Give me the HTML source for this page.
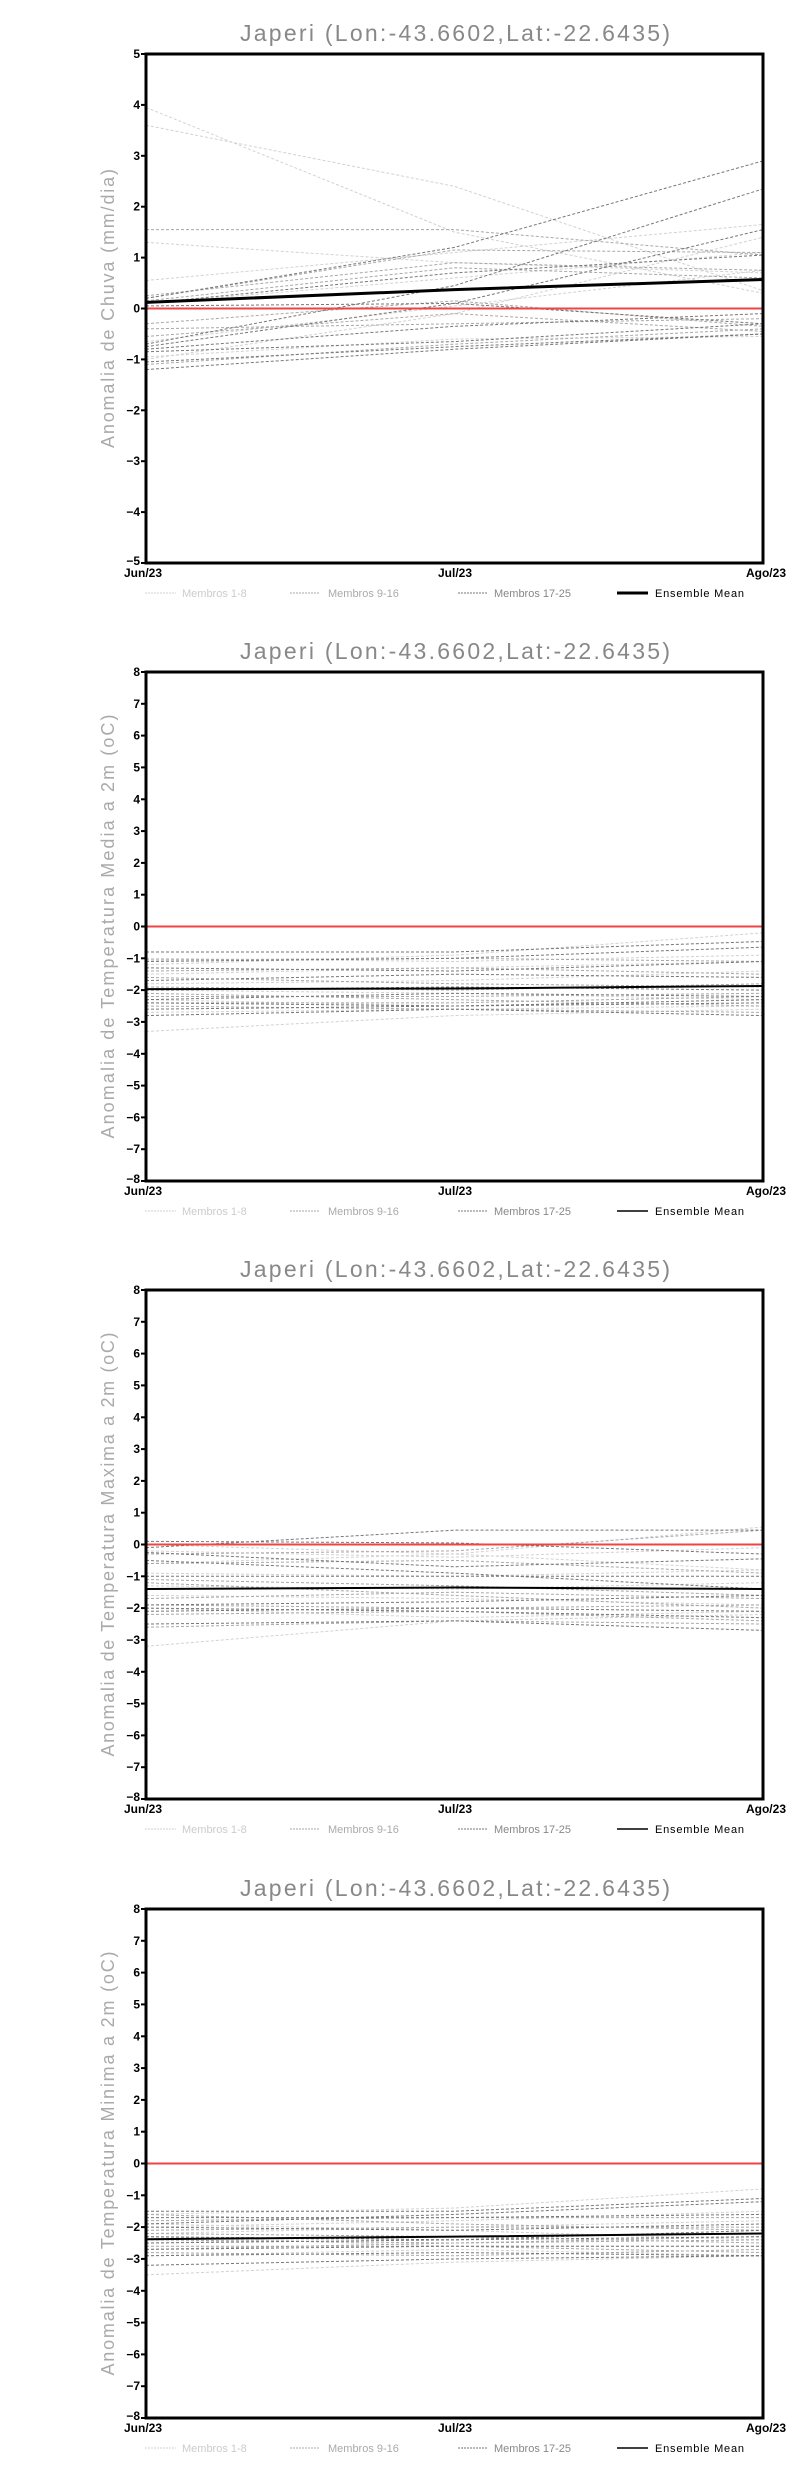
<!DOCTYPE html>
<html><head><meta charset="utf-8"><style>
body{margin:0;background:#fff}
svg{display:block}
.t{font-family:"Liberation Sans",sans-serif;font-size:23px;fill:#888;text-anchor:middle}
.yl{font-family:"Liberation Sans",sans-serif;font-size:18px;fill:#aaa;text-anchor:middle}
.tk{font-family:"Liberation Sans Narrow","Liberation Sans",sans-serif;font-weight:bold;font-size:12px;fill:#000;text-anchor:end}
.xl{font-family:"Liberation Sans Narrow","Liberation Sans",sans-serif;font-weight:bold;font-size:12px;fill:#000;text-anchor:middle}
.lg{font-family:"Liberation Sans",sans-serif;font-size:11px}
.s polyline{fill:none;stroke-width:1;stroke-dasharray:3 2;vector-effect:non-scaling-stroke}
.a polyline{stroke:#d2d2d2}.b polyline{stroke:#a8a8a8}.c polyline{stroke:#777}
.m{fill:none;stroke:#000;vector-effect:non-scaling-stroke}
.r{stroke:#ee4444;stroke-width:2;vector-effect:non-scaling-stroke}
</style></head><body>
<svg width="800" height="2472" viewBox="0 0 800 2472" xmlns="http://www.w3.org/2000/svg">
<defs>
<g id="legend">
<line x1="145" x2="176" stroke="#d2d2d2" stroke-dasharray="2 1"/><text class="lg" x="182" y="4" fill="#ccc">Membros 1-8</text>
<line x1="290" x2="320" stroke="#a8a8a8" stroke-dasharray="2 1"/><text class="lg" x="328" y="4" fill="#aaa">Membros 9-16</text>
<line x1="458" x2="488" stroke="#777" stroke-dasharray="2 1"/><text class="lg" x="494" y="4" fill="#888">Membros 17-25</text>
<text class="lg" x="655" y="4" fill="#000" textLength="89">Ensemble Mean</text>
</g>
<g id="xlab">
<text class="xl" x="143" y="14">Jun/23</text>
<text class="xl" x="455" y="14">Jul/23</text>
<text class="xl" x="766" y="14">Ago/23</text>
</g>
<g id="tticks" stroke="#000" stroke-width="2">
<line x1="141" x2="146" y1="54" y2="54"/><line x1="141" x2="146" y1="85.8" y2="85.8"/><line x1="141" x2="146" y1="117.6" y2="117.6"/><line x1="141" x2="146" y1="149.4" y2="149.4"/><line x1="141" x2="146" y1="181.3" y2="181.3"/><line x1="141" x2="146" y1="213.1" y2="213.1"/><line x1="141" x2="146" y1="244.9" y2="244.9"/><line x1="141" x2="146" y1="276.7" y2="276.7"/><line x1="141" x2="146" y1="308.5" y2="308.5"/><line x1="141" x2="146" y1="340.3" y2="340.3"/><line x1="141" x2="146" y1="372.1" y2="372.1"/><line x1="141" x2="146" y1="403.9" y2="403.9"/><line x1="141" x2="146" y1="435.8" y2="435.8"/><line x1="141" x2="146" y1="467.6" y2="467.6"/><line x1="141" x2="146" y1="499.4" y2="499.4"/><line x1="141" x2="146" y1="531.2" y2="531.2"/><line x1="141" x2="146" y1="563" y2="563"/>
</g>
<g id="tlabels">
<text class="tk" x="140" y="58">8</text><text class="tk" x="140" y="89.8">7</text><text class="tk" x="140" y="121.6">6</text><text class="tk" x="140" y="153.4">5</text><text class="tk" x="140" y="185.3">4</text><text class="tk" x="140" y="217.1">3</text><text class="tk" x="140" y="248.9">2</text><text class="tk" x="140" y="280.7">1</text><text class="tk" x="140" y="312.5">0</text><text class="tk" x="140" y="344.3">−1</text><text class="tk" x="140" y="376.1">−2</text><text class="tk" x="140" y="407.9">−3</text><text class="tk" x="140" y="439.8">−4</text><text class="tk" x="140" y="471.6">−5</text><text class="tk" x="140" y="503.4">−6</text><text class="tk" x="140" y="535.2">−7</text><text class="tk" x="140" y="565">−8</text>
</g>
</defs>

<!-- Panel 1 -->
<text class="t" x="455" y="41" textLength="430">Japeri (Lon:-43.6602,Lat:-22.6435)</text>
<text class="yl" transform="translate(114,308.5) rotate(-90)" textLength="279">Anomalia de Chuva (mm/dia)</text>
<g transform="translate(0,308.5) scale(1,-50.9)">
<g class="s a">
<polyline points="146,3.95 454.5,1.5 763,0.3"/><polyline points="146,3.6 454.5,2.4 763,0.35"/><polyline points="146,1.3 454.5,0.9 763,0.7"/><polyline points="146,0.55 454.5,1.1 763,1.65"/><polyline points="146,-0.95 454.5,-0.6 763,-0.55"/><polyline points="146,-1.0 454.5,-0.1 763,1.4"/><polyline points="146,-0.65 454.5,0.05 763,0.75"/><polyline points="146,0.1 454.5,0.6 763,1.1"/>
</g>
<g class="s b">
<polyline points="146,1.55 454.5,1.55 763,1.05"/><polyline points="146,0.2 454.5,1.15 763,1.1"/><polyline points="146,-0.3 454.5,0.15 763,-0.35"/><polyline points="146,-0.4 454.5,-0.3 763,-0.2"/><polyline points="146,-0.55 454.5,-0.1 763,-0.45"/><polyline points="146,-1.1 454.5,-0.7 763,-0.4"/><polyline points="146,0.15 454.5,0.8 763,0.6"/><polyline points="146,0.25 454.5,0.9 763,0.75"/>
</g>
<g class="s c">
<polyline points="146,0.2 454.5,1.2 763,2.9"/><polyline points="146,-0.7 454.5,0.45 763,2.35"/><polyline points="146,-0.75 454.5,0.1 763,1.55"/><polyline points="146,0.1 454.5,0.7 763,1.05"/><polyline points="146,-0.8 454.5,-0.35 763,-0.1"/><polyline points="146,-1.05 454.5,-0.75 763,-0.5"/><polyline points="146,-0.85 454.5,-0.65 763,-0.3"/><polyline points="146,0.05 454.5,0.1 763,-0.3"/><polyline points="146,-1.2 454.5,-0.8 763,-0.5"/>
</g>
<line class="r" x1="146" x2="763" y1="0" y2="0"/>
<polyline class="m" stroke-width="3" points="146,0.12 454.5,0.37 763,0.57"/>
</g>
<rect x="146" y="54" width="617" height="509" fill="none" stroke="#000" stroke-width="3"/>
<g stroke="#000" stroke-width="2">
<line x1="141" x2="146" y1="54" y2="54"/><line x1="141" x2="146" y1="104.9" y2="104.9"/><line x1="141" x2="146" y1="155.8" y2="155.8"/><line x1="141" x2="146" y1="206.7" y2="206.7"/><line x1="141" x2="146" y1="257.6" y2="257.6"/><line x1="141" x2="146" y1="308.5" y2="308.5"/><line x1="141" x2="146" y1="359.4" y2="359.4"/><line x1="141" x2="146" y1="410.3" y2="410.3"/><line x1="141" x2="146" y1="461.2" y2="461.2"/><line x1="141" x2="146" y1="512.1" y2="512.1"/><line x1="141" x2="146" y1="563" y2="563"/>
</g>
<text class="tk" x="140" y="58">5</text><text class="tk" x="140" y="108.9">4</text><text class="tk" x="140" y="159.8">3</text><text class="tk" x="140" y="210.7">2</text><text class="tk" x="140" y="261.6">1</text><text class="tk" x="140" y="312.5">0</text><text class="tk" x="140" y="363.4">−1</text><text class="tk" x="140" y="414.3">−2</text><text class="tk" x="140" y="465.2">−3</text><text class="tk" x="140" y="516.1">−4</text><text class="tk" x="140" y="565">−5</text>
<use href="#xlab" x="0" y="563"/>
<g transform="translate(0,593)"><use href="#legend"/><line x1="617" x2="648" stroke="#000" stroke-width="3"/></g>

<!-- Panel 2 -->
<g transform="translate(0,618)">
<text class="t" x="455" y="41" textLength="430">Japeri (Lon:-43.6602,Lat:-22.6435)</text>
<text class="yl" transform="translate(114,308.5) rotate(-90)" textLength="424">Anomalia de Temperatura Media a 2m (oC)</text>
<g transform="translate(0,308.5) scale(1,-31.81)">
<g class="s a">
<polyline points="146,-3.3 454.5,-2.8 763,-2.6"/><polyline points="146,-1.2 454.5,-0.9 763,-0.2"/><polyline points="146,-1.5 454.5,-1.3 763,-1.1"/><polyline points="146,-1.8 454.5,-1.7 763,-1.4"/><polyline points="146,-2.0 454.5,-2.1 763,-2.3"/><polyline points="146,-2.3 454.5,-2.5 763,-2.4"/><polyline points="146,-1.0 454.5,-1.1 763,-0.9"/><polyline points="146,-2.7 454.5,-2.6 763,-2.5"/>
</g>
<g class="s b">
<polyline points="146,-1.05 454.5,-1.0 763,-1.1"/><polyline points="146,-1.4 454.5,-1.3 763,-1.5"/><polyline points="146,-1.6 454.5,-1.8 763,-1.9"/><polyline points="146,-2.2 454.5,-2.2 763,-2.1"/><polyline points="146,-2.1 454.5,-2.3 763,-2.5"/><polyline points="146,-2.5 454.5,-2.6 763,-2.7"/><polyline points="146,-1.9 454.5,-2.0 763,-1.8"/><polyline points="146,-2.4 454.5,-2.4 763,-2.2"/>
</g>
<g class="s c">
<polyline points="146,-0.8 454.5,-0.8 763,-0.47"/><polyline points="146,-1.1 454.5,-1.0 763,-0.65"/><polyline points="146,-1.3 454.5,-1.4 763,-1.1"/><polyline points="146,-1.7 454.5,-1.5 763,-1.6"/><polyline points="146,-2.0 454.5,-1.9 763,-2.0"/><polyline points="146,-2.3 454.5,-2.1 763,-2.2"/><polyline points="146,-2.4 454.5,-2.5 763,-2.3"/><polyline points="146,-2.8 454.5,-2.6 763,-2.8"/><polyline points="146,-2.6 454.5,-2.5 763,-2.4"/>
</g>
<line class="r" x1="146" x2="763" y1="0" y2="0"/>
<polyline class="m" stroke-width="2" points="146,-1.97 454.5,-1.95 763,-1.87"/>
</g>
<rect x="146" y="54" width="617" height="509" fill="none" stroke="#000" stroke-width="3"/>
<use href="#tticks"/><use href="#tlabels"/>
<use href="#xlab" x="0" y="563"/>
<g transform="translate(0,593)"><use href="#legend"/><line x1="617" x2="648" stroke="#000" stroke-width="1.5"/></g>
</g>

<!-- Panel 3 -->
<g transform="translate(0,1236)">
<text class="t" x="455" y="41" textLength="430">Japeri (Lon:-43.6602,Lat:-22.6435)</text>
<text class="yl" transform="translate(114,308.5) rotate(-90)" textLength="424">Anomalia de Temperatura Maxima a 2m (oC)</text>
<g transform="translate(0,308.5) scale(1,-31.81)">
<g class="s a">
<polyline points="146,-3.2 454.5,-2.4 763,-2.2"/><polyline points="146,0.0 454.5,-0.3 763,0.55"/><polyline points="146,-0.6 454.5,-0.3 763,-0.8"/><polyline points="146,-1.3 454.5,-1.4 763,-1.2"/><polyline points="146,-1.6 454.5,-1.7 763,-1.9"/><polyline points="146,-0.9 454.5,-1.0 763,-0.8"/><polyline points="146,-2.0 454.5,-2.3 763,-2.1"/><polyline points="146,-0.2 454.5,-0.4 763,-0.1"/>
</g>
<g class="s b">
<polyline points="146,-0.3 454.5,-0.2 763,0.45"/><polyline points="146,-0.6 454.5,-0.5 763,-0.9"/><polyline points="146,-1.1 454.5,-1.3 763,-1.6"/><polyline points="146,-1.7 454.5,-1.5 763,-1.7"/><polyline points="146,-1.9 454.5,-2.0 763,-1.9"/><polyline points="146,-2.2 454.5,-2.1 763,-2.4"/><polyline points="146,-2.6 454.5,-2.4 763,-2.5"/><polyline points="146,-1.2 454.5,-1.6 763,-2.0"/>
</g>
<g class="s c">
<polyline points="146,-0.1 454.5,0.45 763,0.45"/><polyline points="146,0.1 454.5,0.05 763,-0.3"/><polyline points="146,-0.25 454.5,-0.7 763,-0.45"/><polyline points="146,-0.5 454.5,-0.9 763,-1.4"/><polyline points="146,-1.0 454.5,-1.0 763,-1.0"/><polyline points="146,-1.9 454.5,-1.8 763,-1.6"/><polyline points="146,-2.0 454.5,-2.1 763,-2.3"/><polyline points="146,-2.5 454.5,-2.4 763,-2.7"/><polyline points="146,-2.1 454.5,-2.0 763,-2.1"/>
</g>
<line class="r" x1="146" x2="763" y1="0" y2="0"/>
<polyline class="m" stroke-width="2" points="146,-1.4 454.5,-1.35 763,-1.4"/>
</g>
<rect x="146" y="54" width="617" height="509" fill="none" stroke="#000" stroke-width="3"/>
<use href="#tticks"/><use href="#tlabels"/>
<use href="#xlab" x="0" y="563"/>
<g transform="translate(0,593)"><use href="#legend"/><line x1="617" x2="648" stroke="#000" stroke-width="1.5"/></g>
</g>

<!-- Panel 4 -->
<g transform="translate(0,1855)">
<text class="t" x="455" y="41" textLength="430">Japeri (Lon:-43.6602,Lat:-22.6435)</text>
<text class="yl" transform="translate(114,308.5) rotate(-90)" textLength="424">Anomalia de Temperatura Minima a 2m (oC)</text>
<g transform="translate(0,308.5) scale(1,-31.81)">
<g class="s a">
<polyline points="146,-3.5 454.5,-3.1 763,-2.9"/><polyline points="146,-1.6 454.5,-1.4 763,-0.8"/><polyline points="146,-2.0 454.5,-1.8 763,-1.5"/><polyline points="146,-2.3 454.5,-2.6 763,-2.6"/><polyline points="146,-2.5 454.5,-2.3 763,-2.2"/><polyline points="146,-1.9 454.5,-2.1 763,-2.4"/><polyline points="146,-2.9 454.5,-2.7 763,-2.9"/><polyline points="146,-2.2 454.5,-2.0 763,-1.8"/>
</g>
<g class="s b">
<polyline points="146,-1.8 454.5,-1.7 763,-1.7"/><polyline points="146,-2.1 454.5,-2.0 763,-2.0"/><polyline points="146,-2.4 454.5,-2.5 763,-2.4"/><polyline points="146,-2.6 454.5,-2.6 763,-2.8"/><polyline points="146,-2.8 454.5,-2.9 763,-2.7"/><polyline points="146,-2.2 454.5,-2.3 763,-2.5"/><polyline points="146,-1.6 454.5,-1.9 763,-2.1"/><polyline points="146,-2.7 454.5,-2.5 763,-2.3"/>
</g>
<g class="s c">
<polyline points="146,-1.5 454.5,-1.5 763,-1.1"/><polyline points="146,-1.7 454.5,-1.7 763,-1.6"/><polyline points="146,-2.0 454.5,-2.1 763,-1.9"/><polyline points="146,-2.5 454.5,-2.4 763,-2.3"/><polyline points="146,-2.7 454.5,-2.6 763,-2.6"/><polyline points="146,-2.9 454.5,-2.8 763,-2.9"/><polyline points="146,-3.2 454.5,-3.0 763,-2.9"/><polyline points="146,-2.3 454.5,-2.4 763,-2.1"/><polyline points="146,-1.9 454.5,-1.6 763,-1.2"/>
</g>
<line class="r" x1="146" x2="763" y1="0" y2="0"/>
<polyline class="m" stroke-width="2" points="146,-2.38 454.5,-2.3 763,-2.2"/>
</g>
<rect x="146" y="54" width="617" height="509" fill="none" stroke="#000" stroke-width="3"/>
<use href="#tticks"/><use href="#tlabels"/>
<use href="#xlab" x="0" y="563"/>
<g transform="translate(0,593)"><use href="#legend"/><line x1="617" x2="648" stroke="#000" stroke-width="1.5"/></g>
</g>
</svg>
</body></html>
